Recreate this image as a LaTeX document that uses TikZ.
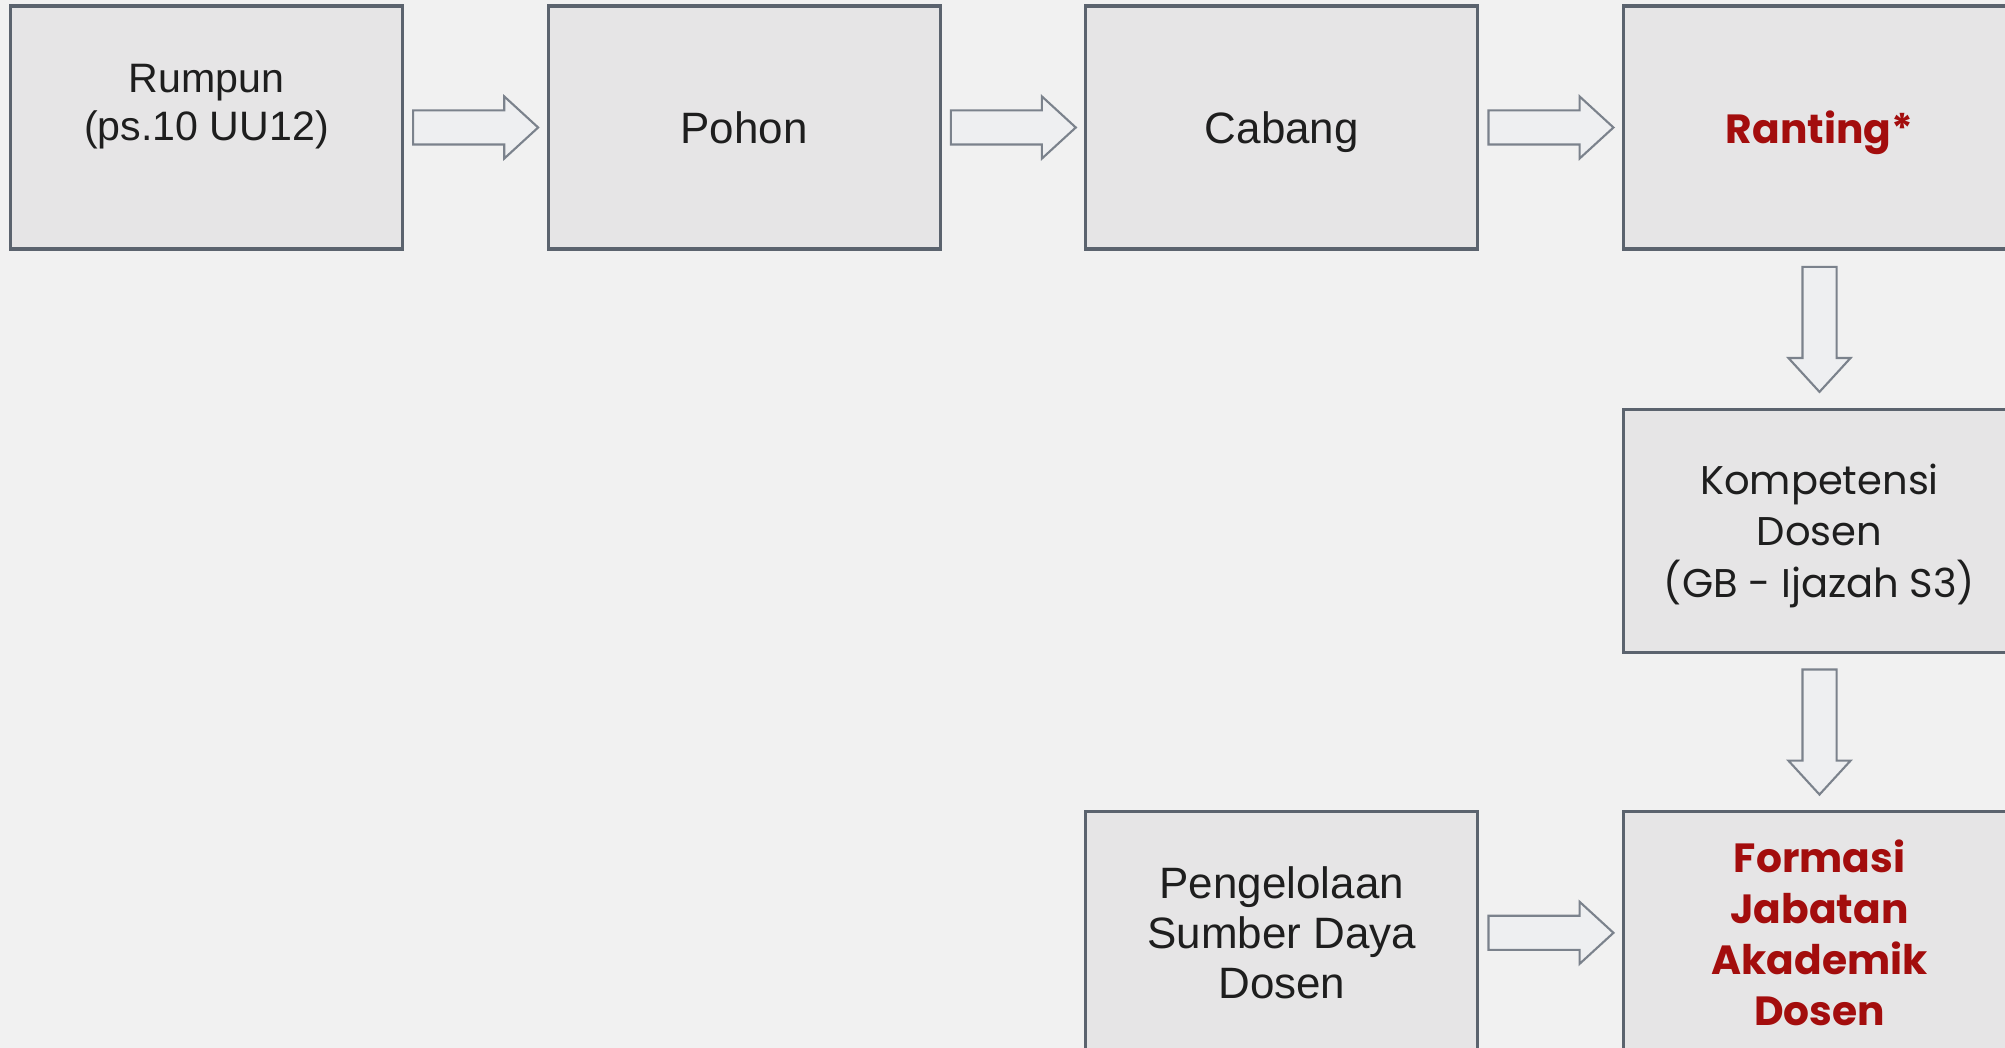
\documentclass[tikz,border=0pt]{standalone}
\usepackage{fontspec}
\setmainfont{Poppins}
\newfontfamily\arialfont{Liberation Sans}
\usetikzlibrary{shapes.arrows,calc,positioning}
\definecolor{boxfill}{HTML}{E6E5E6}
\definecolor{boxline}{HTML}{5B636E}
\definecolor{arrline}{HTML}{7B828C}
\definecolor{arrfill}{HTML}{EEEFF1}
\definecolor{bgcol}{HTML}{F1F1F1}
\definecolor{darkred}{HTML}{A30D0D}
\definecolor{txt}{HTML}{1E1E1E}

\begin{document}
\begin{tikzpicture}
[box/.style = {draw=boxline, fill=boxfill, line width=0.9pt, minimum width=3.92cm, minimum height=2.43cm, align=center, text=txt, font=\fontsize{11.4}{14.6}\selectfont},
 redtext/.style = {text=darkred, font=\fontsize{11.6}{14.6}\selectfont\bfseries},
 arialtext/.style = {font=\arialfont\fontsize{12.5}{14.2}\selectfont},
 flow/.style = {single arrow, draw=arrline, fill=arrfill, line width=0.6pt, minimum height=1.25cm, inner sep=0.16cm, single arrow head extend=0.14cm, single arrow tip angle=85},
 flowright/.style = {flow, xshift=-0.09cm},
 flowdown/.style = {flow, shape border rotate=270, yshift=0.09cm},]
\useasboundingbox (0,0) rectangle (20.05,-10.48);
\fill[bgcol] (0,0) rectangle (20.05,-10.48);
\clip (0,0) rectangle (20.05,-10.48);
% top row
\node (rumpun) at (2.065,-1.275) [box, arialtext, font=\arialfont\fontsize{11.7}{13.8}\selectfont, text depth=0.5cm] {Rumpun\\(ps.10 UU12)};
\node (pohon) [box, arialtext, text depth=0pt, right=1.425cm of rumpun] {Pohon};
\node (cabang) [box, arialtext, text depth=0pt, right=1.425cm of pohon] {Cabang};
\node (ranting) [box, redtext, text depth=0pt, right=1.425cm of cabang] {Ranting*};
% right column
\node (kompetensi) [box, text depth=0pt, below=1.57cm of ranting] {Kompetensi\\Dosen\\(GB - Ijazah S3)};
\node (formasi) [box, redtext, below=1.56cm of kompetensi] {Formasi\\Jabatan\\Akademik\\Dosen};
\node (pengelolaan) [box, arialtext, left=1.425cm of formasi] {Pengelolaan\\Sumber Daya\\Dosen};
\path (rumpun.east) -- (pohon.west) node[midway, flowright] (ar1) {};
\path (pohon.east) -- (cabang.west) node[midway, flowright] (ar2) {};
\path (cabang.east) -- (ranting.west) node[midway, flowright] (ar3) {};
\path (ranting.south) -- (kompetensi.north) node[midway, flowdown] (ar4) {};
\path (kompetensi.south) -- (formasi.north) node[midway, flowdown] (ar5) {};
\path (pengelolaan.east) -- (formasi.west) node[midway, flowright] (ar6) {};
\end{tikzpicture}
\end{document}
